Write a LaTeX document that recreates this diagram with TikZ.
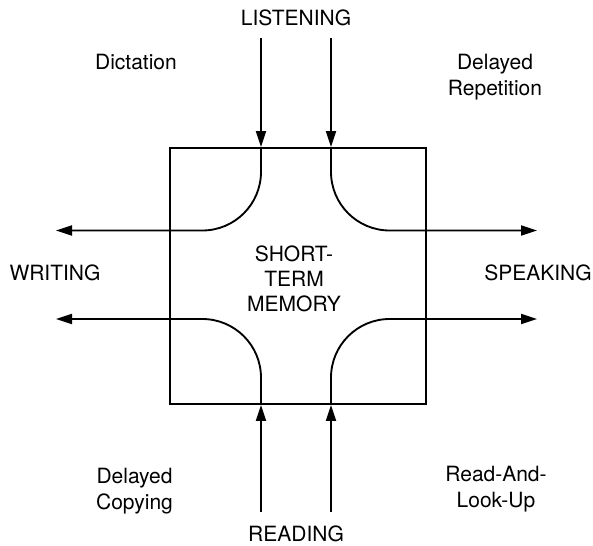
\documentclass[tikz,border=0pt]{standalone}
\usepackage{fontspec}
\setmainfont{TeX Gyre Heros}
\usetikzlibrary{arrows.meta}
\begin{document}
\begin{tikzpicture}[x=0.75pt,y=-0.75pt,
  line width=1.4pt,
  every node/.style={font=\fontsize{15.75}{19}\selectfont, inner sep=0pt},
  flow/.style={-{Triangle[length=12pt,width=7.5pt]}},
  curveflow/.style={flow, rounded corners=44pt},
  lbl/.style={align=center}]
\useasboundingbox (0,0) rectangle (593,546);

% central store
\node[draw, minimum width=192pt, minimum height=192pt] (stm) at (298,276) {};
\node[lbl] (mem) at (294,279) {SHORT-\\TERM\\MEMORY};

% skills
\node (listen) at (296,18) {LISTENING};
\node (read) at (296,534) {READING};
\node (write) at (55,272.5) {WRITING};
\node (speak) at (538,272.5) {SPEAKING};

% activities
\node (dict) at (136,62.5) {Dictation};
\node[lbl] (drep) at (495,77) {Delayed\\Repetition};
\node[lbl] (dcop) at (134.5,491) {Delayed\\Copying};
\node[lbl] (rlu) at (496,489) {Read-And-\\Look-Up};

% arrow ends
\coordinate (inL) at (261,38);
\coordinate (inR) at (331,38);
\coordinate (upL) at (261,512);
\coordinate (upR) at (331,512);
\coordinate (wTop) at (56,230.5);
\coordinate (wBot) at (56,319);
\coordinate (sTop) at (537,230.5);
\coordinate (sBot) at (537,319);

% listening in
\draw[flow] (inL) -- (inL |- stm.north);
\draw[flow] (inR) -- (inR |- stm.north);
% reading in
\draw[flow] (upL) -- (upL |- stm.south);
\draw[flow] (upR) -- (upR |- stm.south);

% routes out of memory
\draw[curveflow] (inL |- stm.north) -- (inL |- wTop) -- (wTop);
\draw[curveflow] (inR |- stm.north) -- (inR |- sTop) -- (sTop);
\draw[curveflow] (upL |- stm.south) -- (upL |- wBot) -- (wBot);
\draw[curveflow] (upR |- stm.south) -- (upR |- sBot) -- (sBot);
\end{tikzpicture}
\end{document}
